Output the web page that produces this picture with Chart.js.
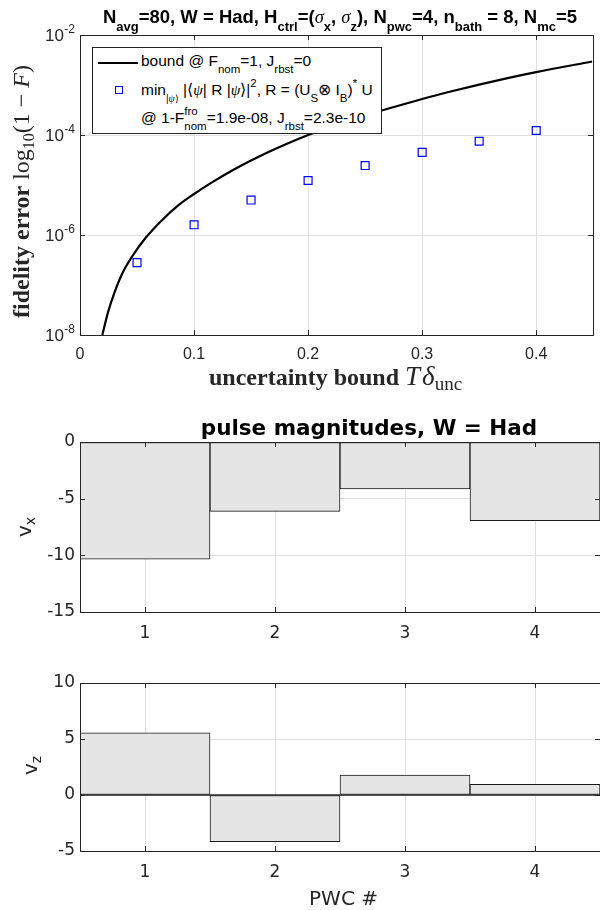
<!DOCTYPE html>
<html>
<head>
<meta charset="utf-8">
<script src="https://cdn.jsdelivr.net/npm/chart.js@4.4.1/dist/chart.umd.min.js"></script>
<style>
  body { margin: 0; background: #fff; }
  #wrap { position: relative; width: 600px; height: 910px; overflow: hidden; background: #fff; }
  #wrap canvas { position: absolute; left: 0; }
  .txt { position: absolute; white-space: nowrap; line-height: 1; color: #262626; }
  .txt sub, .txt sup { line-height: 0; }

  .title1 { font: bold 18.5px 'Liberation Sans', Arial, sans-serif; color: #000; transform: translateX(-50%); }
  .title1 sub { font-size: 13px; vertical-align: -8px; }
  .title1 i { font-family: 'Liberation Serif', serif; font-weight: normal; }

  .leg { position: absolute; left: 92px; top: 47px; width: 290px; height: 87px; box-sizing: border-box;
         border: 1px solid #262626; background: #fff; }
  .legline { position: absolute; left: 98px; top: 61.5px; width: 40px; height: 2px; background: #000; }
  .legsq { position: absolute; left: 114.5px; top: 86px; width: 8px; height: 8px; box-sizing: border-box;
           border: 1.2px solid #0000ff; }
  .legtxt { font: 15.5px 'Liberation Sans', Arial, sans-serif; color: #000; }
  .legtxt sub { font-size: 11.5px; vertical-align: -7px; }
  .legtxt sup { font-size: 11.5px; vertical-align: 8px; }
  .legtxt i { font-family: 'Liberation Serif', serif; }

  .mathlbl { font: 24px 'Liberation Serif', serif; color: #262626; }
  .mathlbl b { font-weight: bold; }
  .mathlbl sub { font-size: 16px; vertical-align: -5px; }
  .mathlbl .big { font-size: 27px; }
  .mathlbl .big i + i { margin-left: 2px; }
  .mathlbl .big sub { font-size: 19px; }

  .sans { font: 20px 'DejaVu Sans', sans-serif; color: #262626; }
  .sans sub { font-size: 14px; vertical-align: -4px; }
  .title2 { font: bold 21.5px 'DejaVu Sans', sans-serif; color: #000; transform: translateX(-50%); }
  .rot { transform-origin: left top; transform: rotate(-90deg); }
</style>
</head>
<body>
<div id="wrap">
  <canvas id="fidChart" width="600" height="380" style="top:0"></canvas>
  <canvas id="vxChart" width="600" height="250" style="top:400px"></canvas>
  <canvas id="vzChart" width="600" height="250" style="top:660px"></canvas>

  <div class="txt title1" style="left:340px; top:6px;">N<sub>avg</sub>=80, W = Had, H<sub>ctrl</sub>=(<i>σ</i><sub>x</sub>, <i>σ</i><sub>z</sub>), N<sub>pwc</sub>=4, n<sub>bath</sub> = 8, N<sub>mc</sub>=5</div>

  <div class="leg"></div>
  <div class="legline"></div>
  <div class="legsq"></div>
  <div class="txt legtxt" style="left:141px; top:52.2px;">bound @ F<sub>nom</sub>=1, J<sub>rbst</sub>=0</div>
  <div class="txt legtxt" style="left:141px; top:80.6px;">min<sub style="font-size:10px">|<i>ψ</i>⟩</sub> |⟨<i>ψ</i>| R |<i>ψ</i>⟩|<sup>2</sup>, R = (U<sub>S</sub>⊗ I<sub>B</sub>)<sup>*</sup> U</div>
  <div class="txt legtxt" style="left:141px; top:108.9px;">@ 1-F<sup>fro</sup><sub style="margin-left:-13.4px">nom</sub>=1.9e-08, J<sub>rbst</sub>=2.3e-10</div>

  <div class="txt mathlbl" style="left:209px; top:361.2px;"><b>uncertainty bound</b> <span class="big"><i>T</i><i>δ</i><sub>unc</sub></span></div>
  <div class="txt mathlbl rot" style="left:8px; top:318px;"><b>fidelity error</b> log<sub>10</sub>(1 − <i>F</i>)</div>

  <div class="txt title2" style="left:369px; top:415px;">pulse magnitudes, W = Had</div>
  <div class="txt sans rot" style="left:12px; top:537px;">v<sub>x</sub></div>
  <div class="txt sans rot" style="left:18px; top:775px;">v<sub>z</sub></div>
  <div class="txt sans" style="left:343.5px; top:886px; transform:translateX(-50%);">PWC #</div>
</div>

<script>
// top panel: fidelity error vs uncertainty bound
const uncBound = [0.05, 0.10, 0.15, 0.20, 0.25, 0.30, 0.35, 0.40];
const fidError = [2.8e-7, 1.6e-6, 5.0e-6, 1.23e-5, 2.45e-5, 4.5e-5, 7.5e-5, 1.23e-4];
const boundX = [0.0196, 0.0245, 0.0302, 0.0374, 0.046, 0.0576, 0.0719, 0.0864, 0.10, 0.115,
                0.135, 0.158, 0.179, 0.20, 0.24, 0.276, 0.30, 0.325, 0.35, 0.374, 0.40, 0.449];
const boundY = [1.0e-8, 2.8e-8, 7.0e-8, 1.75e-7, 3.8e-7, 8.8e-7, 1.98e-6, 3.95e-6, 6.6e-6, 1.1e-5,
                2.04e-5, 3.8e-5, 6.3e-5, 1.0e-4, 2.1e-4, 3.67e-4, 5.25e-4, 7.4e-4, 1.02e-3, 1.36e-3, 1.81e-3, 2.95e-3];
const logTicks = [1e-8, 1e-6, 1e-4, 1e-2];

// bottom panels: pulse magnitudes per PWC segment
const pwcLabels = ['1', '2', '3', '4'];
const vx = [-10.33, -6.12, -4.15, -6.95];
const vz = [5.55, -4.16, 1.78, 0.95];

const axisColor = '#262626';
const gridColor = '#dfdfdf';

// box, inward ticks, optional zero line and 10^n labels
const boxTicks = {
    id: 'boxTicks',
    afterDatasetsDraw(chart, args, opts) {
        const { ctx, chartArea: a } = chart;
        const xs = chart.scales.x;
        const ys = chart.scales.y;
        ctx.save();
        ctx.strokeStyle = axisColor;
        if (opts.zeroLine) {
            const y0 = Math.round(ys.getPixelForValue(0));
            ctx.lineWidth = 1.5;
            ctx.beginPath();
            ctx.moveTo(a.left, y0);
            ctx.lineTo(a.right, y0);
            ctx.stroke();
        }
        ctx.lineWidth = 1;
        ctx.beginPath();
        xs.ticks.forEach((t, i) => {
            const x = Math.round(xs.getPixelForTick(i)) + 0.5;
            ctx.moveTo(x, a.bottom); ctx.lineTo(x, a.bottom - 5);
            ctx.moveTo(x, a.top); ctx.lineTo(x, a.top + 5);
        });
        ys.ticks.forEach((t, i) => {
            const y = Math.round(ys.getPixelForTick(i)) + 0.5;
            ctx.moveTo(a.left, y); ctx.lineTo(a.left + 5, y);
            ctx.moveTo(a.right, y); ctx.lineTo(a.right - 5, y);
        });
        ctx.stroke();
        ctx.strokeRect(Math.round(a.left) + 0.5, Math.round(a.top) + 0.5,
                       Math.round(a.right - a.left), Math.round(a.bottom - a.top));
        if (opts.powerLabels) {
            ctx.fillStyle = axisColor;
            ctx.textAlign = 'right';
            ctx.textBaseline = 'alphabetic';
            ys.ticks.forEach(t => {
                const y = ys.getPixelForValue(t.value);
                const ex = String(Math.round(Math.log10(t.value)));
                ctx.font = '12px "Liberation Sans", Arial, sans-serif';
                const w = ctx.measureText(ex).width;
                ctx.fillText(ex, 75, y - 2);
                ctx.font = '17px "Liberation Sans", Arial, sans-serif';
                ctx.fillText('10', 75 - w - 0.5, y + 6);
            });
        }
        ctx.restore();
    }
};

new Chart(document.getElementById('fidChart'), {
    type: 'scatter',
    data: {
        datasets: [{
            data: boundX.map((x, i) => ({ x: x, y: boundY[i] })),
            showLine: true,
            borderColor: '#000',
            borderWidth: 2.2,
            pointRadius: 0,
            cubicInterpolationMode: 'monotone'
        }, {
            data: uncBound.map((x, i) => ({ x: x, y: fidError[i] })),
            pointStyle: 'rect',
            pointRadius: 5.6,
            borderColor: '#0000ff',
            backgroundColor: 'rgba(0,0,0,0)',
            borderWidth: 1.2
        }]
    },
    options: {
        responsive: false,
        animation: false,
        devicePixelRatio: 1,
        layout: { padding: { top: 35, right: 0, left: 0, bottom: 0 } },
        plugins: { legend: { display: false }, tooltip: { enabled: false }, boxTicks: { powerLabels: true } },
        scales: {
            x: {
                type: 'linear', min: 0, max: 0.45,
                grid: { color: gridColor, drawTicks: false },
                border: { display: false },
                ticks: { stepSize: 0.1, includeBounds: false, color: axisColor, padding: 10, maxRotation: 0,
                         font: { family: 'Liberation Sans', size: 16 } },
                afterFit: s => { s.height = 45; }
            },
            y: {
                type: 'logarithmic', min: 1e-8, max: 1e-2,
                grid: { color: gridColor, drawTicks: false },
                border: { display: false },
                ticks: { display: false },
                afterBuildTicks: s => { s.ticks = logTicks.map(v => ({ value: v })); },
                afterFit: s => { s.width = 80; }
            }
        }
    },
    plugins: [boxTicks]
});

function pulseChart(id, values, yMin, yMax, padTop, axisH, zeroLine) {
    return new Chart(document.getElementById(id), {
        type: 'bar',
        data: {
            labels: pwcLabels,
            datasets: [{
                data: values,
                backgroundColor: '#e5e5e5',
                borderColor: '#1a1a1a',
                borderWidth: 1,
                borderSkipped: false,
                barPercentage: 1,
                categoryPercentage: 1
            }]
        },
        options: {
            responsive: false,
            animation: false,
            devicePixelRatio: 1,
            layout: { padding: { top: padTop, right: 0, left: 0, bottom: 0 } },
            plugins: { legend: { display: false }, tooltip: { enabled: false }, boxTicks: { zeroLine: zeroLine } },
            scales: {
                x: {
                    grid: { offset: false, color: gridColor, drawTicks: false },
                    border: { display: false },
                    ticks: { color: axisColor, padding: 11, maxRotation: 0, font: { family: 'DejaVu Sans', size: 17 } },
                    afterFit: s => { s.height = axisH; }
                },
                y: {
                    min: yMin, max: yMax,
                    grid: { color: gridColor, drawTicks: false },
                    border: { display: false },
                    ticks: { stepSize: 5, color: axisColor, padding: 5, font: { family: 'DejaVu Sans', size: 17 } },
                    afterFit: s => { s.width = 80; }
                }
            }
        },
        plugins: [boxTicks]
    });
}

pulseChart('vxChart', vx, -15, 0, 42, 38, false);
pulseChart('vzChart', vz, -5, 10, 23, 59, true);
</script>
</body>
</html>
